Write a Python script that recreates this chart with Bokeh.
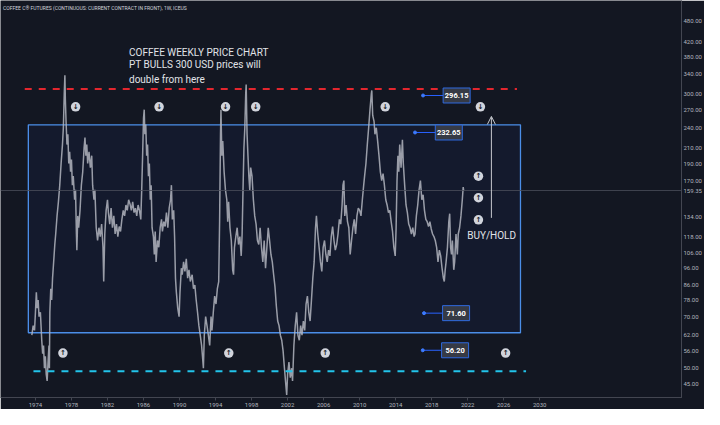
from bokeh.plotting import figure
from bokeh.models import Range1d, FixedTicker, PrintfTickFormatter, Span, Label, Arrow, OpenHead
from bokeh.core.properties import value
from bokeh.embed import file_html
from bokeh.resources import INLINE

FONT = "Roboto"

# ---- weekly coffee price (approximate) ----
years = [1973.60, 1973.75, 1973.90, 1974.00, 1974.10, 1974.20, 1974.30, 1974.40, 1974.55, 1974.70,
         1974.80, 1974.90, 1975.00, 1975.10, 1975.20, 1975.30, 1975.40, 1975.50, 1975.55, 1975.60,
         1975.70, 1975.80, 1975.90, 1976.00, 1976.15, 1976.25, 1976.40, 1976.55, 1976.70, 1976.85,
         1977.00, 1977.10, 1977.20, 1977.27, 1977.32, 1977.40, 1977.50, 1977.60, 1977.70, 1977.80,
         1977.90, 1978.00, 1978.10, 1978.20, 1978.35, 1978.45, 1978.55, 1978.60, 1978.70, 1978.80,
         1978.95, 1979.10, 1979.25, 1979.40, 1979.50, 1979.60, 1979.70, 1979.80, 1979.95, 1980.10,
         1980.25, 1980.35, 1980.50, 1980.60, 1980.75, 1980.90, 1981.05, 1981.20, 1981.35, 1981.50,
         1981.58, 1981.70, 1981.85, 1982.00, 1982.10, 1982.25, 1982.40, 1982.55, 1982.70, 1982.85,
         1983.00, 1983.15, 1983.30, 1983.45, 1983.60, 1983.75, 1983.90, 1984.05, 1984.20, 1984.35,
         1984.50, 1984.65, 1984.80, 1984.95, 1985.10, 1985.25, 1985.40, 1985.55, 1985.70, 1985.80,
         1985.90, 1986.00, 1986.08, 1986.15, 1986.25, 1986.35, 1986.45, 1986.55, 1986.65, 1986.75,
         1986.85, 1986.95, 1987.10, 1987.20, 1987.30, 1987.40, 1987.55, 1987.70, 1987.85, 1988.00,
         1988.10, 1988.25, 1988.40, 1988.55, 1988.70, 1988.85, 1989.00, 1989.10, 1989.20, 1989.35,
         1989.45, 1989.55, 1989.65, 1989.80, 1989.95, 1990.05, 1990.20, 1990.30, 1990.45, 1990.60,
         1990.75, 1990.90, 1991.05, 1991.20, 1991.40, 1991.55, 1991.70, 1991.85, 1992.00, 1992.15,
         1992.30, 1992.45, 1992.55, 1992.65, 1992.75, 1992.90, 1993.05, 1993.20, 1993.35, 1993.50,
         1993.60, 1993.75, 1993.90, 1994.05, 1994.20, 1994.35, 1994.45, 1994.55, 1994.60, 1994.70,
         1994.80, 1994.95, 1995.10, 1995.25, 1995.35, 1995.45, 1995.60, 1995.75, 1995.90, 1996.00,
         1996.10, 1996.25, 1996.40, 1996.55, 1996.70, 1996.85, 1996.95, 1997.05, 1997.15, 1997.25,
         1997.35, 1997.40, 1997.50, 1997.60, 1997.70, 1997.80, 1997.90, 1998.05, 1998.20, 1998.35,
         1998.50, 1998.65, 1998.80, 1998.95, 1999.10, 1999.25, 1999.40, 1999.55, 1999.70, 1999.85,
         2000.00, 2000.15, 2000.30, 2000.45, 2000.60, 2000.75, 2000.90, 2001.05, 2001.20, 2001.35,
         2001.50, 2001.65, 2001.80, 2001.90, 2002.00, 2002.15, 2002.30, 2002.45, 2002.55, 2002.70,
         2002.85, 2003.00, 2003.15, 2003.30, 2003.45, 2003.60, 2003.75, 2003.90, 2004.05, 2004.20,
         2004.35, 2004.50, 2004.65, 2004.80, 2004.95, 2005.10, 2005.20, 2005.35, 2005.50, 2005.65,
         2005.80, 2005.95, 2006.10, 2006.25, 2006.40, 2006.55, 2006.70, 2006.85, 2007.00, 2007.15,
         2007.30, 2007.45, 2007.60, 2007.75, 2007.90, 2008.05, 2008.15, 2008.25, 2008.35, 2008.50,
         2008.65, 2008.80, 2008.95, 2009.10, 2009.25, 2009.40, 2009.55, 2009.70, 2009.85, 2010.00,
         2010.15, 2010.30, 2010.45, 2010.55, 2010.70, 2010.85, 2011.00, 2011.15, 2011.30, 2011.35,
         2011.45, 2011.60, 2011.70, 2011.85, 2012.00, 2012.15, 2012.30, 2012.45, 2012.60, 2012.75,
         2012.90, 2013.05, 2013.20, 2013.35, 2013.50, 2013.65, 2013.80, 2013.95, 2014.05, 2014.15,
         2014.25, 2014.35, 2014.45, 2014.60, 2014.75, 2014.85, 2015.00, 2015.15, 2015.30, 2015.45,
         2015.60, 2015.75, 2015.90, 2016.05, 2016.15, 2016.30, 2016.45, 2016.60, 2016.75, 2016.90,
         2017.05, 2017.20, 2017.35, 2017.50, 2017.65, 2017.80, 2017.95, 2018.10, 2018.25, 2018.40,
         2018.55, 2018.70, 2018.85, 2019.00, 2019.15, 2019.30, 2019.40, 2019.50, 2019.60, 2019.75,
         2019.90, 2020.00, 2020.10, 2020.20, 2020.30, 2020.45, 2020.55, 2020.70, 2020.85, 2020.95,
         2021.10, 2021.25, 2021.40, 2021.50, 2021.55]
prices = [62, 66, 64, 72, 82, 74, 78, 70, 72, 60,
          55, 58, 50, 54, 48, 46, 52, 58, 50, 72,
          84, 78, 90, 98, 112, 120, 135, 148, 165, 190,
          215, 240, 300, 338, 290, 250, 215, 230, 190, 205,
          180, 195, 165, 175, 150, 160, 120, 108, 135, 125,
          140, 165, 180, 210, 225, 200, 215, 190, 205, 185,
          200, 165, 150, 160, 125, 115, 125, 118, 128, 110,
          88, 120, 140, 150, 138, 128, 142, 125, 135, 120,
          128, 118, 126, 122, 132, 140, 135, 145, 140, 150,
          146, 140, 148, 138, 142, 135, 145, 140, 132, 160,
          200, 255, 270, 230, 245, 200, 215, 175, 190, 150,
          165, 125, 118, 105, 122, 100, 115, 110, 125, 132,
          122, 130, 126, 138, 125, 142, 150, 165, 132, 140,
          118, 90, 82, 74, 70, 82, 96, 92, 100, 94,
          102, 90, 95, 88, 92, 84, 86, 78, 72, 66,
          62, 58, 54, 50, 62, 70, 66, 62, 58, 70,
          64, 72, 80, 76, 84, 88, 130, 230, 270, 200,
          220, 180, 160, 150, 130, 148, 125, 115, 95, 92,
          110, 118, 125, 112, 118, 104, 120, 160, 210, 240,
          300, 318, 230, 200, 175, 160, 185, 175, 150, 135,
          128, 115, 112, 125, 110, 100, 115, 96, 110, 125,
          115, 105, 100, 92, 85, 75, 68, 66, 62, 60,
          56, 50, 45, 42, 48, 52, 47, 50, 46, 58,
          66, 72, 62, 60, 66, 62, 68, 64, 76, 80,
          72, 68, 78, 90, 100, 125, 135, 120, 110, 100,
          94, 110, 115, 105, 100, 108, 104, 118, 126, 115,
          108, 112, 120, 132, 128, 145, 165, 170, 135, 145,
          130, 125, 105, 115, 125, 132, 120, 135, 142, 140,
          135, 150, 165, 175, 190, 215, 240, 270, 300, 306,
          260, 250, 230, 240, 220, 200, 180, 170, 178, 165,
          150, 145, 138, 140, 130, 122, 110, 104, 125, 170,
          200, 180, 215, 185, 222, 190, 165, 145, 138, 128,
          125, 120, 125, 118, 120, 135, 145, 160, 170, 150,
          155, 140, 132, 130, 126, 130, 124, 120, 118, 115,
          110, 100, 108, 104, 96, 90, 88, 95, 100, 110,
          130, 137, 110, 105, 115, 95, 100, 120, 105, 120,
          125, 135, 150, 163, 159.35]

last_price = 159.35

# drawings (levels)
resistance_level = 309
resistance_from, resistance_to = 1972.81, 2027.47
support_level = 49
support_from, support_to = 1973.78, 2028.48
range_top, range_bottom = 244.6, 63.0
range_start, range_end = 1973.21, 2027.86

price_labels = [296.15, 232.65, 71.60, 56.20]
label_anchor_years = [2017.04, 2016.15, 2017.15, 2017.01]
label_box_years = [2020.77, 2019.90, 2020.71, 2020.60]

sell_icon_years = [1978.46, 1987.73, 1995.11, 1998.46, 2012.84, 2023.41]
sell_icon_level = 275
buy_icon_years = [1977.05, 1995.47, 2006.18, 2026.21]
buy_icon_level = 55.2
hold_icon_year = 2023.19
hold_icon_levels = [174.9, 152.0, 131.6]

target_arrow_year = 2024.63
target_arrow_from, target_arrow_to = 133.3, 258.4
buy_hold_year, buy_hold_level = 2024.65, 119.0

title_year = 1984.39
title_levels = [391.6, 361.5, 328.9]
title_lines = ["COFFEE WEEKLY PRICE CHART", "PT BULLS 300 USD prices will", "double from here"]

header = "COFFEE C\u00ae FUTURES (CONTINUOUS: CURRENT CONTRACT IN FRONT), 1W, ICEUS"

year_ticks = [1974, 1978, 1982, 1986, 1990, 1994, 1998, 2002, 2006, 2010, 2014, 2018, 2022, 2026, 2030]
price_ticks = [45, 50, 56, 62, 70, 78, 86, 96, 106, 118, 134, 170, 190, 210, 240, 270, 300, 340, 380, 420, 480]

BG = "#131722"
AXIS_TXT = "#b2b5be"

p = figure(width=704, height=409, output_backend="svg", toolbar_location=None,
           x_range=Range1d(1970.12, 2045.74), y_range=Range1d(41.3, 550.3),
           y_axis_type="log", y_axis_location="right",
           background_fill_color=BG, border_fill_color=BG,
           min_border_left=0, min_border_top=0, min_border_right=0, min_border_bottom=0)
p.outline_line_color = None
p.grid.grid_line_color = None

# axes
p.yaxis.ticker = FixedTicker(ticks=price_ticks + [last_price])
p.yaxis.formatter = PrintfTickFormatter(format="%.2f")
p.yaxis.major_label_text_font = FONT
p.yaxis.major_label_text_font_size = "6px"
p.yaxis.major_label_text_color = AXIS_TXT
p.yaxis.major_tick_line_color = None
p.yaxis.minor_tick_line_color = None
p.yaxis.major_tick_out = 0
p.yaxis.minor_tick_out = 0
p.yaxis.axis_line_color = "#434651"
p.yaxis.major_label_standoff = 2

p.xaxis.ticker = FixedTicker(ticks=year_ticks)
p.xaxis.formatter = PrintfTickFormatter(format="%d")
p.xaxis.major_label_text_font = FONT
p.xaxis.major_label_text_font_size = "6px"
p.xaxis.major_label_text_color = AXIS_TXT
p.xaxis.major_tick_line_color = "#434651"
p.xaxis.major_tick_out = 3
p.xaxis.major_tick_in = 0
p.xaxis.minor_tick_line_color = None
p.xaxis.minor_tick_out = 0
p.xaxis.axis_line_color = "#434651"
p.xaxis.major_label_standoff = 2

# range box
p.quad(left=[range_start], right=[range_end], top=[range_top], bottom=[range_bottom],
       fill_color="#2962ff", fill_alpha=0.05, line_color="#4b8ee8", line_width=1.3)

# last price line
p.add_layout(Span(location=last_price, dimension="width", line_color="#4a4e5a", line_width=1, line_alpha=0.8))

# price series
p.line(years, prices, line_color="#b2b5be", line_width=1.5, line_alpha=0.85)

# dashed levels
p.line([resistance_from, resistance_to], [resistance_level, resistance_level],
       line_color="#e3262e", line_width=2, line_dash="7 7")
p.line([support_from, support_to], [support_level, support_level],
       line_color="#22c4ea", line_width=2, line_dash="7 7")

# price labels
p.segment(x0=label_anchor_years, y0=price_labels, x1=label_box_years, y1=price_labels,
          line_color="#2962ff", line_width=1)
p.scatter(label_anchor_years, price_labels, size=3, color="#3d7bff")
p.rect(label_box_years, price_labels, width=27, height=15, width_units="screen", height_units="screen",
       fill_color="#363a45", line_color="#2f6ae0", line_width=1)
p.text(label_box_years, price_labels, text=[f"{v:.2f}" for v in price_labels],
       text_align="center", text_baseline="middle", text_font=value(FONT),
       text_font_size="7.5px", text_font_style="bold", text_color="#ffffff")

# icons
ICON = "#d1d4dc"
p.scatter(sell_icon_years, [sell_icon_level] * len(sell_icon_years), size=9.5, fill_color=ICON, line_color=None)
p.text(sell_icon_years, [sell_icon_level] * len(sell_icon_years), text=["\u2193"] * len(sell_icon_years),
       text_align="center", text_baseline="middle", text_font=value("DejaVu Sans"),
       text_font_size="7px", text_font_style="bold", text_color=BG)
up_years = buy_icon_years + [hold_icon_year] * len(hold_icon_levels)
up_levels = [buy_icon_level] * len(buy_icon_years) + hold_icon_levels
p.scatter(up_years, up_levels, size=9.5, fill_color=ICON, line_color=None)
p.text(up_years, up_levels, text=["\u2191"] * len(up_years),
       text_align="center", text_baseline="middle", text_font=value("DejaVu Sans"),
       text_font_size="7px", text_font_style="bold", text_color=BG)

# target arrow + text
p.add_layout(Arrow(end=OpenHead(size=8, line_color="#c5c8ce", line_width=1),
                   x_start=target_arrow_year, y_start=target_arrow_from,
                   x_end=target_arrow_year, y_end=target_arrow_to,
                   line_color="#c5c8ce", line_width=1))
p.text([buy_hold_year], [buy_hold_level], text=["BUY/HOLD"], text_align="center", text_baseline="middle",
       text_font=value(FONT), text_font_size="10px", text_color="#e1e3e8")

# title
p.text([title_year] * 3, title_levels, text=title_lines, text_align="left", text_baseline="alphabetic",
       text_font=value(FONT), text_font_size="10px", text_color="#e1e3e8")

# header
p.add_layout(Label(x=1970.4, y=523, text=header, text_font=FONT, text_font_size="5px",
                   text_color="#d1d4dc", text_baseline="middle"))

open("out.html", "w").write(file_html(p, INLINE))
